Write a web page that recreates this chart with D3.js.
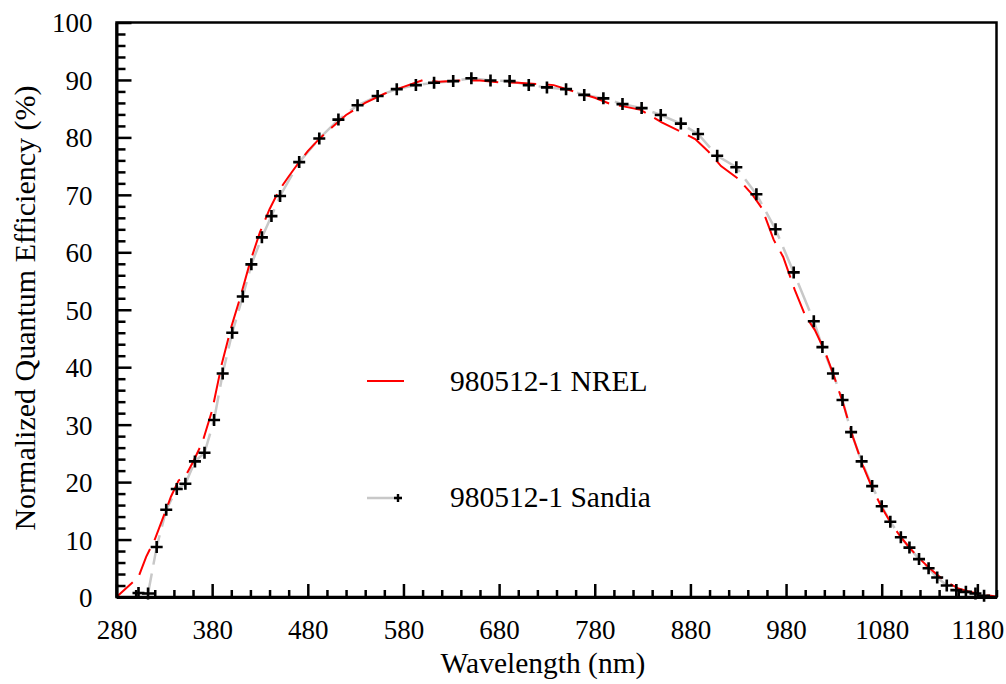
<!DOCTYPE html>
<html><head><meta charset="utf-8">
<script src="https://cdn.jsdelivr.net/npm/d3@7"></script>
<style>body{margin:0;background:#fff}svg{display:block}</style>
</head><body><svg id="c" width="1006" height="684"></svg>
<script>
// NREL measurement (wavelength nm, normalized QE %)
const nrelWavelength = [280,303,311,320,328,337,345,352,360,370,380,390,400,410,420,430,440,450,460,470,480,490,500,520,540,560,580,601,617,640,660,680,700,720,737,760,780,795,810,828,850,870,885,899,912,930,945,955,967,977,989,1000,1010,1020,1030,1040,1050,1060,1070,1080,1090,1100,1110,1120,1130,1140,1150,1160,1170,1180,1190,1200];
const nrelQE = [0,3.5,7.0,10.0,13.5,17.5,20.3,21.0,23.5,27.0,32.5,40.5,47.0,52.5,58.5,63.5,67.5,70.8,73.2,75.5,77.6,79.4,81.0,83.9,86.0,87.6,88.8,90.0,89.7,89.9,89.9,89.6,89.5,89.3,89.1,87.9,86.9,85.9,85.4,84.8,82.6,81.0,79.7,77.5,75.0,72.8,70.0,67.6,62.2,59.2,53.5,49.0,46.5,43.0,38.5,33.5,27.8,23.0,19.0,15.6,12.8,10.4,8.4,6.6,5.0,3.6,2.4,1.5,1.0,0.6,0.3,0.1];
// Sandia measurement
const sandiaWavelength = [303,313,322,332,343,352,362,372,382,391,401,412,421,432,442,451,471,492,512,532,553,573,593,612,632,651,671,691,711,730,750,769,789,809,829,849,870,888,908,928,949,969,988,1009,1018,1029,1039,1048,1059,1070,1080,1089,1100,1109,1119,1129,1138,1148,1158,1168,1178,1187];
const sandiaQE = [0.7,0.6,8.7,15.2,18.8,19.7,23.6,25.1,30.8,38.9,46.0,52.3,57.9,62.6,66.3,69.8,75.7,79.8,83.1,85.6,87.2,88.4,89.1,89.5,89.8,90.3,89.9,89.8,89.1,88.7,88.4,87.4,86.8,85.8,85.1,83.9,82.4,80.6,76.8,74.8,70.1,64.0,56.5,48.0,43.5,38.9,34.3,28.7,23.6,19.3,15.8,13.1,10.4,8.6,6.6,5.0,3.4,2.0,1.2,0.9,0.6,0.2];
const xTicks = [280,380,480,580,680,780,880,980,1080,1180];
const yTicks = [0,10,20,30,40,50,60,70,80,90,100];
const seriesNames = ["980512-1 NREL","980512-1 Sandia"];
const xTitle = "Wavelength (nm)";
const yTitle = "Normalized Quantum Efficiency (%)";

const FONT = "'Liberation Serif',Tinos,'Times New Roman',Times,'Nimbus Roman',FreeSerif,'Noto Serif','DejaVu Serif',serif";
const svg = d3.select("#c");
const L=116.5, R=996.5, T=22.5, B=597;
const x = d3.scaleLinear().domain([280,1200]).range([L,R]);
const y = d3.scaleLinear().domain([0,100]).range([B,T]);

const nrel = nrelWavelength.map((w,i)=>[w,nrelQE[i]]);
const sandia = sandiaWavelength.map((w,i)=>[w,sandiaQE[i]]);
const line = d3.line().x(d=>x(d[0])).y(d=>y(d[1]));

svg.append("path").datum(sandia).attr("d",line).attr("fill","none")
  .attr("stroke","#c8c8c8").attr("stroke-width",2.5).attr("stroke-dasharray","30,9");
svg.append("path").datum(nrel).attr("d",line).attr("fill","none")
  .attr("stroke","#ff0000").attr("stroke-width",2).attr("stroke-dasharray","28,10").attr("stroke-dashoffset",6);
svg.append("g").selectAll("path").data(sandia).join("path")
  .attr("transform",d=>`translate(${x(d[0])},${y(d[1])})`)
  .attr("d","M-6,0H6M0,-6V6").attr("stroke","#000").attr("stroke-width",2.6).attr("fill","none");

svg.append("rect").attr("x",L).attr("y",T).attr("width",R-L).attr("height",B-T)
  .attr("fill","none").attr("stroke","#000").attr("stroke-width",2.5);

const xAxis = svg.append("g").attr("transform",`translate(0,${B})`);
xAxis.call(d3.axisBottom(x).tickValues(d3.range(280,1201,20)).tickSize(0).tickFormat(""));
xAxis.attr("font-family",FONT);
xAxis.select(".domain").attr("stroke-width",3);
xAxis.selectAll(".tick line").attr("y2",d=>xTicks.includes(d)?-13:-7).attr("stroke-width",2.5);
xAxis.selectAll(".tick").filter(d=>xTicks.includes(d)).append("text")
  .attr("y",42).attr("text-anchor","middle").attr("fill","#000").style("font-family",FONT).style("font-size","27px").text(d=>d);

const yAxis = svg.append("g").attr("transform",`translate(${L},0)`);
yAxis.call(d3.axisLeft(y).tickValues(d3.range(0,101,2)).tickSize(0).tickFormat(""));
yAxis.attr("font-family",FONT);
yAxis.select(".domain").attr("stroke-width",3);
yAxis.selectAll(".tick line").attr("x2",d=>yTicks.includes(d)?15:9).attr("stroke-width",2.5);
yAxis.selectAll(".tick").filter(d=>yTicks.includes(d)).append("text")
  .attr("x",-24).attr("dy","0.35em").attr("text-anchor","end").attr("fill","#000").style("font-family",FONT).style("font-size","27px").text(d=>d);

svg.append("text").attr("x",543).attr("y",673).attr("text-anchor","middle").style("font-family",FONT).style("font-size","29.5px").text(xTitle);
svg.append("text").attr("transform","translate(35,308) rotate(-90)").attr("text-anchor","middle").style("font-family",FONT).style("font-size","30px").text(yTitle);

const lg = svg.append("g");
lg.append("line").attr("x1",367).attr("x2",404).attr("y1",381).attr("y2",381).attr("stroke","#ff0000").attr("stroke-width",2);
lg.append("text").attr("x",450).attr("y",391).style("font-family",FONT).style("font-size","29.5px").text(seriesNames[0]);
lg.append("line").attr("x1",367).attr("x2",402).attr("y1",498).attr("y2",498).attr("stroke","#c8c8c8").attr("stroke-width",2.5);
lg.append("path").attr("transform","translate(398,498)").attr("d","M-4,0H4M0,-4V4").attr("stroke","#000").attr("stroke-width",2.4);
lg.append("text").attr("x",450).attr("y",507).style("font-family",FONT).style("font-size","29.5px").text(seriesNames[1]);
</script></body></html>
